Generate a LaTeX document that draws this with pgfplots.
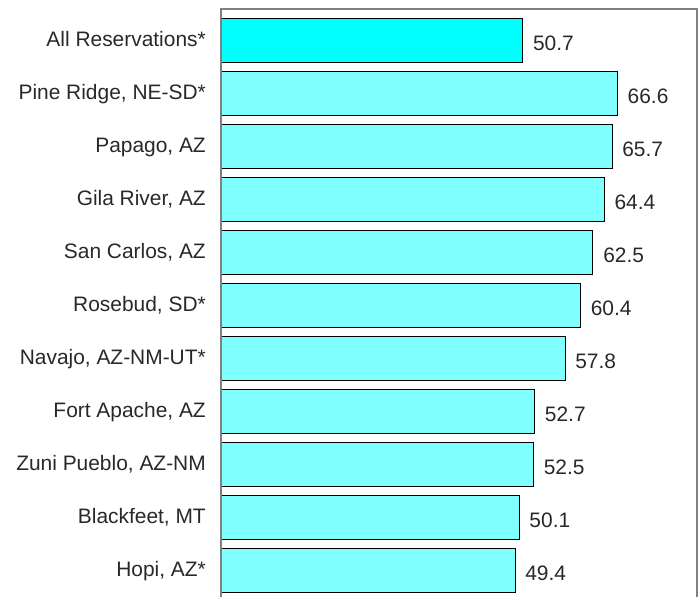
\documentclass[border=0pt]{standalone}
\usepackage{pgfplots}
\pgfplotsset{compat=1.18}
\usepackage{fontspec}
\setmainfont{Liberation Sans}
\definecolor{barA}{RGB}{0,255,255}
\definecolor{barB}{RGB}{128,255,255}
\definecolor{txt}{RGB}{40,40,40}
\begin{document}
\begin{tikzpicture}
\begin{axis}[
  scale only axis,
  width=476bp, height=588bp,
  xmin=0, xmax=80,
  ymin=-0.5, ymax=10.59,
  axis line style={draw=none},
  xtick=\empty,
  ytick={0,1,2,3,4,5,6,7,8,9,10},
  yticklabels={{Hopi, AZ*},{Blackfeet, MT},{Zuni Pueblo, AZ-NM},{Fort Apache, AZ},{Navajo, AZ-NM-UT*},{Rosebud, SD*},{San Carlos, AZ},{Gila River, AZ},{Papago, AZ},{Pine Ridge, NE-SD*},{All Reservations*}},
  major tick length=0pt,
  yticklabel style={font=\fontsize{21}{25}\selectfont, text=txt, inner sep=0pt, anchor=base east, xshift=-15bp, yshift=-5.8bp},
  xbar, bar width=0.83, bar shift=0pt,
  nodes near coords,
  nodes near coords style={font=\fontsize{21}{25}\selectfont, text=txt, anchor=west, inner sep=0pt, xshift=10bp, yshift=-3bp, /pgf/number format/.cd, fixed, fixed zerofill, precision=1, assume math mode=true},
  clip=false,
]
\addplot[draw=black, line width=0.8bp, fill=barB] coordinates {
 (49.4,0) (50.1,1) (52.5,2) (52.7,3) (57.8,4) (60.4,5) (62.5,6) (64.4,7) (65.7,8) (66.6,9)};
\addplot[draw=black, line width=0.8bp, fill=barA] coordinates {(50.7,10)};
\draw[gray, line width=1.1bp] (rel axis cs:0,0) -- (rel axis cs:0,1) -- (rel axis cs:1,1) -- (rel axis cs:1,0);
\coordinate (fbl) at (rel axis cs:0,0);
\coordinate (ftr) at (rel axis cs:1,1);
\end{axis}
\pgfresetboundingbox
\path[use as bounding box] ([xshift=-221bp]fbl) rectangle ([xshift=1bp,yshift=9bp]ftr);
\end{tikzpicture}
\end{document}
